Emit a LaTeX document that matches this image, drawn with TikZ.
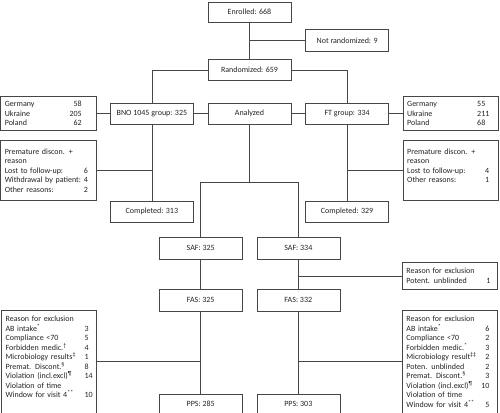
\documentclass[tikz,border=0pt]{standalone}
\usepackage{fontspec}
\setmainfont{Carlito}
\usetikzlibrary{positioning}
\definecolor{bline}{RGB}{70,70,70}
\definecolor{btext}{RGB}{35,35,35}
\newlength{\labw}
\newcommand{\rowitem}[2]{\makebox[\labw][l]{#1}#2}
\newcommand{\rowitemr}[2]{\makebox[\labw][l]{#1}\makebox[0pt][r]{#2}}
\newcommand{\toplist}[1]{\parbox[c][97pt][t]{87pt}{\rule{0pt}{8.5pt}#1}}

\begin{document}
\begin{tikzpicture}[
  font=\fontsize{8}{9.5}\selectfont, text=btext,
  box/.style={draw=bline, line width=0.6pt, align=center, inner sep=3pt,
              minimum width=83pt, minimum height=21pt},
  lst/.style={box, align=left, text width=87pt, inner xsep=4pt, minimum width=95pt},
  numat/.code={\setlength{\labw}{#1}},
  link/.style={draw=bline, line width=0.6pt},
  node distance=14pt,
]
\useasboundingbox (0,0) rectangle (500pt,-412pt);
\node[box, minimum height=20pt] (enr) at (249.5pt,-12pt) {Enrolled: 668};
\node[box, minimum height=22pt, below right=7pt and 14pt of enr.south east] (notr) {Not randomized: 9};
\node[box, below=37pt of enr] (rand) {Randomized: 659};
\node[box, below=22pt of rand] (ana) {Analyzed};
\node[box, left=of ana] (bno) {BNO 1045 group: 325};
\node[box, right=of ana] (ft) {FT group: 334};
\node[lst, numat=77pt, minimum height=34pt, left=of bno] (cl)
  {\rowitemr{Germany}{58}\\ \rowitemr{Ukraine}{205}\\ \rowitemr{Poland}{62}};
\node[lst, numat=70pt, minimum height=34pt, right=of ft] (cr)
  {\rowitem{Germany}{55}\\ \rowitem{Ukraine}{211}\\ \rowitem{Poland}{68}};
\node[lst, numat=79pt, minimum height=60pt, below=9pt of cl] (pl)
  {Premature discon. +\\ reason\\ \rowitem{Lost to follow-up:}{6}\\
   \rowitem{Withdrawal by patient:}{4}\\ \rowitem{Other reasons:}{2}};
\node[lst, numat=78pt, minimum height=60pt, below=9pt of cr] (pr)
  {Premature discon. +\\ reason\\ \rowitem{Lost to follow-up:}{4}\\
   \rowitem{Other reasons:}{1}\\ \mbox{}};
\node[box, below=76pt of bno] (coml) {Completed: 313};
\node[box, below=76pt of ft] (comr) {Completed: 329};
\coordinate[below=58pt of ana] (split);
% analysis sets
\node[box, minimum height=22pt, below left=112pt and 7pt of ana.south] (safl) {SAF: 325};
\node[box, minimum height=22pt, below right=112pt and 7pt of ana.south] (safr) {SAF: 334};
\node[box, minimum height=22pt, below=30pt of safl] (fasl) {FAS: 325};
\node[box, minimum height=22pt, below=30pt of safr] (fasr) {FAS: 332};
\node[lst, numat=80pt, minimum height=27pt, below right=3pt and 62pt of safr.south east] (exs)
  {Reason for exclusion\\ \rowitem{Potent. unblinded}{1}};
\node[box, minimum height=20pt, below=82pt of fasl] (ppsl) {PPS: 285};
\node[box, minimum height=20pt, below=82pt of fasr] (ppsr) {PPS: 303};
\node[lst, numat=79pt, below left=-2pt and 62pt of fasl.south west] (xl)
  {\toplist{Reason for exclusion\\ \rowitem{AB intake\textsuperscript{*}}{3}\\
   \rowitem{Compliance <70}{5}\\ \rowitem{Forbidden medic.\textsuperscript{†}}{4}\\
   \rowitem{Microbiology results\textsuperscript{‡}}{1}\\ \rowitem{Premat. Discont.\textsuperscript{§}}{8}\\
   \rowitem{Violation (incl.excl)\textsuperscript{¶}}{14}\\ Violation of time\\
   \rowitem{Window for visit 4\textsuperscript{**}}{10}}};
\node[lst, numat=83pt, below right=-2pt and 62pt of fasr.south east] (xr)
  {\toplist{Reason for exclusion\\ \rowitemr{AB intake\textsuperscript{*}}{6}\\
   \rowitemr{Compliance <70}{2}\\ \rowitemr{Forbidden medic.\textsuperscript{*}}{3}\\
   \rowitemr{Microbiology result\textsuperscript{‡‡}}{2}\\ \rowitemr{Poten. unblinded}{2}\\
   \rowitemr{Premat. Discont.\textsuperscript{§}}{3}\\ \rowitemr{Violation (incl.excl)\textsuperscript{¶}}{10}\\
   Violation of time\\ \rowitemr{Window for visit 4\textsuperscript{**}}{5}}};

\draw[link] (enr) -- (rand);
\draw[link] (notr.west) -- (notr.west -| enr.south);
\draw[link] (rand.west) -| (bno.north);
\draw[link] (rand.east) -| (ft.north);
\draw[link] (cl) -- (bno);
\draw[link] (bno) -- (ana);
\draw[link] (ana) -- (ft);
\draw[link] (ft) -- (cr);
\draw[link] (bno) -- (coml);
\draw[link] (ft) -- (comr);
\draw[link] (pl.east) -- (pl.east -| bno.south);
\draw[link] (pr.west) -- (pr.west -| ft.south);
\draw[link] (ana) -- (split);
\draw[link] (safl.north) |- (split) -| (safr.north);
\draw[link] (safl) -- (fasl);
\draw[link] (fasl) -- (ppsl);
\draw[link] (safr) -- (fasr);
\draw[link] (fasr) -- (ppsr);
\draw[link] (exs.west) -- (exs.west -| safr.south);
\draw[link] (xl.east) -- (xl.east -| fasl.south);
\draw[link] (xr.west) -- (xr.west -| fasr.south);
\end{tikzpicture}
\end{document}
